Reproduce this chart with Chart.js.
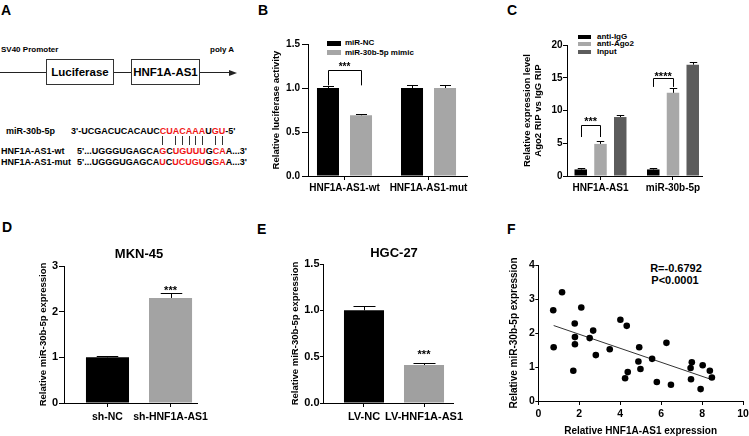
<!DOCTYPE html>
<html>
<head>
<meta charset="utf-8">
<script src="https://cdn.jsdelivr.net/npm/chart.js@4.4.1/dist/chart.umd.min.js"></script>
<style>
  html, body { margin: 0; padding: 0; background: #fff; }
  body { width: 749px; height: 436px; position: relative; overflow: hidden;
         font-family: "Liberation Sans", Arial, sans-serif; font-weight: bold; color: #000; }
  .t { position: absolute; white-space: nowrap; }
  .letter { font-size: 14px; line-height: 14px; }
  .small { font-size: 8px; line-height: 8px; }
  .seq { font-size: 9px; line-height: 9px; }
  .red { color: #f01414; }
  .hl { position: absolute; height: 1px; background: #222; }
  .vl { position: absolute; width: 1px; top: 136px; height: 9px; background: #333; }
  .gene { position: absolute; border: 1px solid #333; display: flex; align-items: center;
          justify-content: center; font-size: 11.5px; }
  .sq { position: absolute; }
  .wrap { position: absolute; }
</style>
</head>
<body>

<!-- panel letters -->
<div class="t letter" style="left:1px;top:3px">A</div>
<div class="t letter" style="left:258px;top:3px">B</div>
<div class="t letter" style="left:507px;top:3px">C</div>
<div class="t letter" style="left:2px;top:220px">D</div>
<div class="t letter" style="left:257px;top:222px">E</div>
<div class="t letter" style="left:507px;top:222px">F</div>

<!-- A: construct -->
<div class="t small" style="left:1px;top:46px">SV40 Promoter</div>
<div class="t small" style="left:210px;top:46px">poly A</div>
<div class="hl" style="left:0;top:72px;width:46px"></div>
<div class="gene" style="left:46px;top:59px;width:66px;height:24px">Luciferase</div>
<div class="hl" style="left:114px;top:72px;width:17px"></div>
<div class="gene" style="left:131px;top:59px;width:67px;height:24px">HNF1A-AS1</div>
<div class="hl" style="left:200px;top:72px;width:30px"></div>
<div class="t" style="left:229px;top:69.5px;width:0;height:0;border-left:8px solid #222;border-top:3px solid transparent;border-bottom:3px solid transparent"></div>

<!-- A: sequences -->
<div class="t seq" style="left:6px;top:126.5px">miR-30b-5p</div>
<div class="t seq" style="left:71px;top:126.5px">3'-UCGACUCACAUC<span class="red">CUACAAA</span>U<span class="red">GU</span>-5'</div>
<div class="t seq" style="left:1px;top:146.5px">HNF1A-AS1-wt</div>
<div class="t seq" id="wt" style="left:77px;top:146.5px">5'...UGGGUGAGCA<span class="red p">G</span>C<span class="red p">U</span><span class="red p">G</span><span class="red p">U</span><span class="red p">U</span><span class="red p">U</span>G<span class="red p">C</span><span class="red p">A</span>A...3'</div>
<div class="t seq" style="left:1px;top:157.5px">HNF1A-AS1-mut</div>
<div class="t seq" style="left:77px;top:157.5px">5'...UGGGUGAGCA<span class="red">U</span>C<span class="red">UCUGU</span>G<span class="red">GA</span>A...3'</div>

<!-- legends -->
<div class="sq" style="left:327px;top:41px;width:14px;height:5px;background:#000"></div>
<div class="t small" style="left:345px;top:39.3px">miR-NC</div>
<div class="sq" style="left:327px;top:50px;width:14px;height:5px;background:#a6a6a6"></div>
<div class="t small" style="left:345px;top:48.5px">miR-30b-5p mimic</div>

<div class="sq" style="left:578px;top:34.7px;width:13px;height:4px;background:#000"></div>
<div class="t small" style="left:597px;top:32.7px">anti-IgG</div>
<div class="sq" style="left:578px;top:42.3px;width:13px;height:4px;background:#a8a8a8"></div>
<div class="t small" style="left:597px;top:40.3px">anti-Ago2</div>
<div class="sq" style="left:578px;top:50.3px;width:13px;height:4px;background:#5c5c5c"></div>
<div class="t small" style="left:597px;top:48.3px">Input</div>

<div class="t" style="left:626px;top:262.5px;width:100px;text-align:center;font-size:11px;line-height:11px">R=-0.6792</div>
<div class="t" style="left:625px;top:274.5px;width:100px;text-align:center;font-size:11px;line-height:11px">P&lt;0.0001</div>

<div class="wrap" style="left:262px;top:36px;width:209px;height:164px"><canvas id="chartB"></canvas></div>
<div class="wrap" style="left:515px;top:37px;width:191px;height:163px"><canvas id="chartC"></canvas></div>
<div class="wrap" style="left:30px;top:240px;width:187px;height:187px"><canvas id="chartD"></canvas></div>
<div class="wrap" style="left:282px;top:240px;width:191px;height:187px"><canvas id="chartE"></canvas></div>
<div class="wrap" style="left:500px;top:250px;width:253px;height:190px"><canvas id="chartF"></canvas></div>

<script>
// B: luciferase reporter
const luciferaseGroups = ["HNF1A-AS1-wt", "HNF1A-AS1-mut"];
const luciferaseNC = [1.0, 1.0];
const luciferaseNCErr = [0.02, 0.03];
const luciferaseMimic = [0.69, 1.0];
const luciferaseMimicErr = [0.01, 0.03];

// C: RIP
const ripGroups = ["HNF1A-AS1", "miR-30b-5p"];
const ripIgG = [1.0, 1.0];
const ripIgGErr = [0.15, 0.15];
const ripAgo2 = [4.9, 12.7];
const ripAgo2Err = [0.45, 0.8];
const ripInput = [9.0, 17.0];
const ripInputErr = [0.35, 0.45];

// D: MKN-45
const mknGroups = ["sh-NC", "sh-HNF1A-AS1"];
const mknValues = [1.0, 2.3];
const mknErr = [0.02, 0.1];

// E: HGC-27
const hgcGroups = ["LV-NC", "LV-HNF1A-AS1"];
const hgcValues = [1.0, 0.41];
const hgcErr = [0.05, 0.02];

// F: correlation
const corrX = [0.73, 0.75, 1.16, 1.71, 1.78, 1.79, 1.79, 2.10, 2.51, 2.68, 2.81, 3.49, 4.01, 4.24, 4.32,
               4.37, 4.93, 4.89, 4.99, 5.56, 5.79, 6.26, 6.48, 7.46, 7.44, 7.50, 7.93, 8.03, 8.38, 8.48];
const corrY = [2.67, 1.58, 3.20, 0.89, 2.28, 1.88, 1.67, 2.75, 1.85, 2.07, 1.35, 1.52, 2.39, 0.67, 2.21,
               0.85, 1.58, 1.16, 0.94, 1.24, 0.56, 1.71, 0.48, 0.64, 0.97, 1.14, 0.35, 1.05, 0.89, 0.69];
const fitX = [0.75, 8.42];
const fitY = [2.22, 0.64];

Chart.defaults.font.family = "'Liberation Sans', Arial, sans-serif";
Chart.defaults.font.weight = 'bold';
Chart.defaults.color = '#000';
Chart.defaults.animation = false;

const FONT = "'Liberation Sans', Arial, sans-serif";
const px = v => Math.round(v) + 0.5;

function pts(groups, vals) {
  return groups.map((g, i) => ({ x: i + 1, y: vals[i] }));
}

// error bars, brackets, stars and panel title
function marks(spec) {
  return {
    id: 'marks',
    afterDatasetsDraw(chart) {
      const ctx = chart.ctx;
      const y = chart.scales.y;
      ctx.save();
      ctx.strokeStyle = '#000';
      ctx.fillStyle = '#000';
      ctx.lineWidth = 1;
      chart.data.datasets.forEach((ds, di) => {
        if (!ds.errors) return;
        chart.getDatasetMeta(di).data.forEach((bar, i) => {
          const top = px(y.getPixelForValue(ds.data[i].y + ds.errors[i]));
          const half = bar.width * spec.cap / 2;
          const x = px(bar.x);
          ctx.beginPath();
          ctx.moveTo(x, bar.y);
          ctx.lineTo(x, top);
          ctx.moveTo(x - half, top);
          ctx.lineTo(x + half, top);
          ctx.stroke();
        });
      });
      ctx.textAlign = 'center';
      ctx.textBaseline = 'alphabetic';
      ctx.font = 'bold ' + spec.starSize + 'px ' + FONT;
      const star = (text, x, cy) => ctx.fillText(text, x, cy + spec.starSize * 0.57);
      (spec.brackets || []).forEach(b => {
        const a = chart.getDatasetMeta(b.from).data[b.index];
        const c = chart.getDatasetMeta(b.to).data[b.index];
        const top = px(y.getPixelForValue(b.at));
        const leg = y.getPixelForValue(b.leg);
        ctx.beginPath();
        ctx.moveTo(px(a.x), leg);
        ctx.lineTo(px(a.x), top);
        ctx.lineTo(px(c.x), top);
        ctx.lineTo(px(c.x), leg);
        ctx.stroke();
        star(b.text, (a.x + c.x) / 2, top - b.gap);
      });
      (spec.stars || []).forEach(s => {
        const ds = chart.data.datasets[s.dataset];
        const bar = chart.getDatasetMeta(s.dataset).data[s.index];
        const cap = y.getPixelForValue(ds.data[s.index].y + ds.errors[s.index]);
        star(s.text, bar.x, cap - s.gap);
      });
      if (spec.title) {
        const bars = chart.getDatasetMeta(0).data;
        const cx = (bars[0].x + bars[bars.length - 1].x) / 2;
        const cy = chart.chartArea.top - spec.title.gap;
        ctx.font = 'bold ' + spec.title.size + 'px ' + FONT;
        ctx.fillText(spec.title.text, cx, cy + spec.title.size * 0.358);
      }
      ctx.restore();
    }
  };
}

function yAxis(o) {
  return {
    min: 0, max: o.max,
    afterFit: s => { s.width = o.width; },
    border: { color: '#000', width: 1 },
    grid: { drawOnChartArea: false, tickLength: o.tick, color: '#000', lineWidth: 1 },
    ticks: { stepSize: o.step, padding: o.pad, color: '#000', font: { size: o.font },
             callback: o.fmt || (v => v) },
    title: { display: true, text: o.title, color: '#000',
             font: { size: o.titleSize, lineHeight: o.titleLh || 1.2 },
             padding: { top: o.titlePad, bottom: 0 } }
  };
}

function xGroups(o) {
  return {
    type: 'linear', min: o.min, max: o.max, offset: false, bounds: 'data',
    afterBuildTicks: s => { s.ticks = o.groups.map((g, i) => ({ value: i + 1 })); },
    afterFit: s => { s.height = o.height; },
    border: { color: '#000', width: 1 },
    grid: { offset: false, drawOnChartArea: false, tickLength: o.tick, color: '#000', lineWidth: 1 },
    ticks: { autoSkip: false, maxRotation: 0, minRotation: 0, padding: o.pad, color: '#000',
             font: { size: o.font }, callback: v => o.groups[Math.round(v) - 1] }
  };
}

const quiet = { legend: { display: false }, tooltip: { enabled: false } };

// B
new Chart(document.getElementById('chartB'), {
  type: 'bar',
  data: {
    datasets: [
      { label: 'miR-NC', data: pts(luciferaseGroups, luciferaseNC), errors: luciferaseNCErr,
        backgroundColor: '#000', categoryPercentage: 0.786, barPercentage: 0.667 },
      { label: 'miR-30b-5p mimic', data: pts(luciferaseGroups, luciferaseMimic), errors: luciferaseMimicErr,
        backgroundColor: '#a6a6a6', categoryPercentage: 0.786, barPercentage: 0.667 }
    ]
  },
  options: {
    responsive: true, maintainAspectRatio: false,
    layout: { padding: { left: 0, top: 8, right: 4, bottom: 2 } },
    plugins: quiet,
    scales: {
      x: xGroups({ groups: luciferaseGroups, min: 0.5655, max: 2.458, height: 22, tick: 4, pad: 2, font: 10 }),
      y: yAxis({ max: 1.5, step: 0.5, width: 46, tick: 6, pad: 2, font: 10, fmt: v => v.toFixed(1),
                 title: 'Relative luciferase activity', titleSize: 9.5, titlePad: 9 })
    }
  },
  plugins: [marks({ cap: 0.5, starSize: 10,
    brackets: [{ from: 0, to: 1, index: 0, at: 1.2, leg: 1.03, text: '***', gap: 6 }] })]
});

// C
new Chart(document.getElementById('chartC'), {
  type: 'bar',
  data: {
    datasets: [
      { label: 'anti-IgG', data: pts(ripGroups, ripIgG), errors: ripIgGErr,
        backgroundColor: '#000', categoryPercentage: 0.817, barPercentage: 0.633 },
      { label: 'anti-Ago2', data: pts(ripGroups, ripAgo2), errors: ripAgo2Err,
        backgroundColor: '#a8a8a8', categoryPercentage: 0.817, barPercentage: 0.633 },
      { label: 'Input', data: pts(ripGroups, ripInput), errors: ripInputErr,
        backgroundColor: '#5c5c5c', categoryPercentage: 0.817, barPercentage: 0.633 }
    ]
  },
  options: {
    responsive: true, maintainAspectRatio: false,
    layout: { padding: { left: 0, top: 8, right: 4, bottom: 2 } },
    plugins: quiet,
    scales: {
      x: xGroups({ groups: ripGroups, min: 0.538, max: 2.4, height: 22, tick: 4, pad: 2, font: 10 }),
      y: yAxis({ max: 20, step: 5, width: 52, tick: 4, pad: 0.5, font: 10,
                 title: ['Relative expression level', 'Ago2 RIP vs IgG RIP'],
                 titleSize: 9.5, titleLh: 1.15, titlePad: 6.5 })
    }
  },
  plugins: [marks({ cap: 0.6, starSize: 11,
    brackets: [
      { from: 0, to: 1, index: 0, at: 7.8, leg: 5.95, text: '***', gap: 7 },
      { from: 0, to: 1, index: 1, at: 15.0, leg: 13.6, text: '****', gap: 5 }
    ] })]
});

// D
new Chart(document.getElementById('chartD'), {
  type: 'bar',
  data: {
    datasets: [
      { label: 'MKN-45', data: pts(mknGroups, mknValues), errors: mknErr,
        backgroundColor: ['#000', '#a3a3a3'], categoryPercentage: 1, barPercentage: 0.683 }
    ]
  },
  options: {
    responsive: true, maintainAspectRatio: false,
    layout: { padding: { left: 0, top: 26, right: 20, bottom: 2 } },
    plugins: quiet,
    scales: {
      x: xGroups({ groups: mknGroups, min: 0.31, max: 2.42, height: 22, tick: 4, pad: 3.7, font: 10.5 }),
      y: yAxis({ max: 3, step: 1, width: 34, tick: 5, pad: 1, font: 11,
                 title: 'Relative miR-30b-5p expression', titleSize: 9.5, titlePad: 7.3 })
    }
  },
  plugins: [marks({ cap: 0.5, starSize: 11, title: { text: 'MKN-45', size: 13, gap: 13 },
    stars: [{ dataset: 0, index: 1, text: '***', gap: 6 }] })]
});

// E
new Chart(document.getElementById('chartE'), {
  type: 'bar',
  data: {
    datasets: [
      { label: 'HGC-27', data: pts(hgcGroups, hgcValues), errors: hgcErr,
        backgroundColor: ['#000', '#a0a0a0'], categoryPercentage: 1, barPercentage: 0.667 }
    ]
  },
  options: {
    responsive: true, maintainAspectRatio: false,
    layout: { padding: { left: 0, top: 24, right: 20, bottom: 2 } },
    plugins: quiet,
    scales: {
      x: xGroups({ groups: hgcGroups, min: 0.317, max: 2.483, height: 22, tick: 4, pad: 3, font: 11 }),
      y: yAxis({ max: 1.5, step: 0.5, width: 41, tick: 3, pad: 0.5, font: 11, fmt: v => v.toFixed(1),
                 title: 'Relative miR-30b-5p expression', titleSize: 9.5, titlePad: 7.3 })
    }
  },
  plugins: [marks({ cap: 0.55, starSize: 11, title: { text: 'HGC-27', size: 13, gap: 11.7 },
    stars: [{ dataset: 0, index: 1, text: '***', gap: 11 }] })]
});

// F
new Chart(document.getElementById('chartF'), {
  type: 'scatter',
  data: {
    datasets: [
      { label: 'samples', data: corrX.map((x, i) => ({ x: x, y: corrY[i] })),
        pointRadius: 3.3, pointBackgroundColor: '#000', pointBorderWidth: 0 },
      { label: 'fit', type: 'line', data: fitX.map((x, i) => ({ x: x, y: fitY[i] })),
        borderColor: '#333', borderWidth: 1, pointRadius: 0, fill: false }
    ]
  },
  options: {
    responsive: true, maintainAspectRatio: false,
    layout: { padding: { left: 0, top: 15, right: 10, bottom: 0 } },
    plugins: quiet,
    scales: {
      x: {
        type: 'linear', min: 0, max: 10,
        afterFit: s => { s.height = 39; },
        border: { color: '#000', width: 1 },
        grid: { drawOnChartArea: false, tickLength: 4, color: '#000' },
        ticks: { stepSize: 2, padding: 3, font: { size: 10.5 }, color: '#000' },
        title: { display: true, text: 'Relative HNF1A-AS1 expression', color: '#000',
                 font: { size: 10 }, padding: { top: 0, bottom: 2.3 } }
      },
      y: yAxis({ max: 4, step: 1, width: 38.3, tick: 3, pad: 0.5, font: 10.5,
                 title: 'Relative miR-30b-5p expression', titleSize: 10, titlePad: 8 })
    }
  }
});

// base-pairing ticks under the wild-type seed
document.querySelectorAll('#wt .p').forEach(s => {
  const r = s.getBoundingClientRect();
  const d = document.createElement('div');
  d.className = 'vl';
  d.style.left = Math.round(r.left + r.width / 2 - 0.5) + 'px';
  document.body.appendChild(d);
});
</script>
</body>
</html>
